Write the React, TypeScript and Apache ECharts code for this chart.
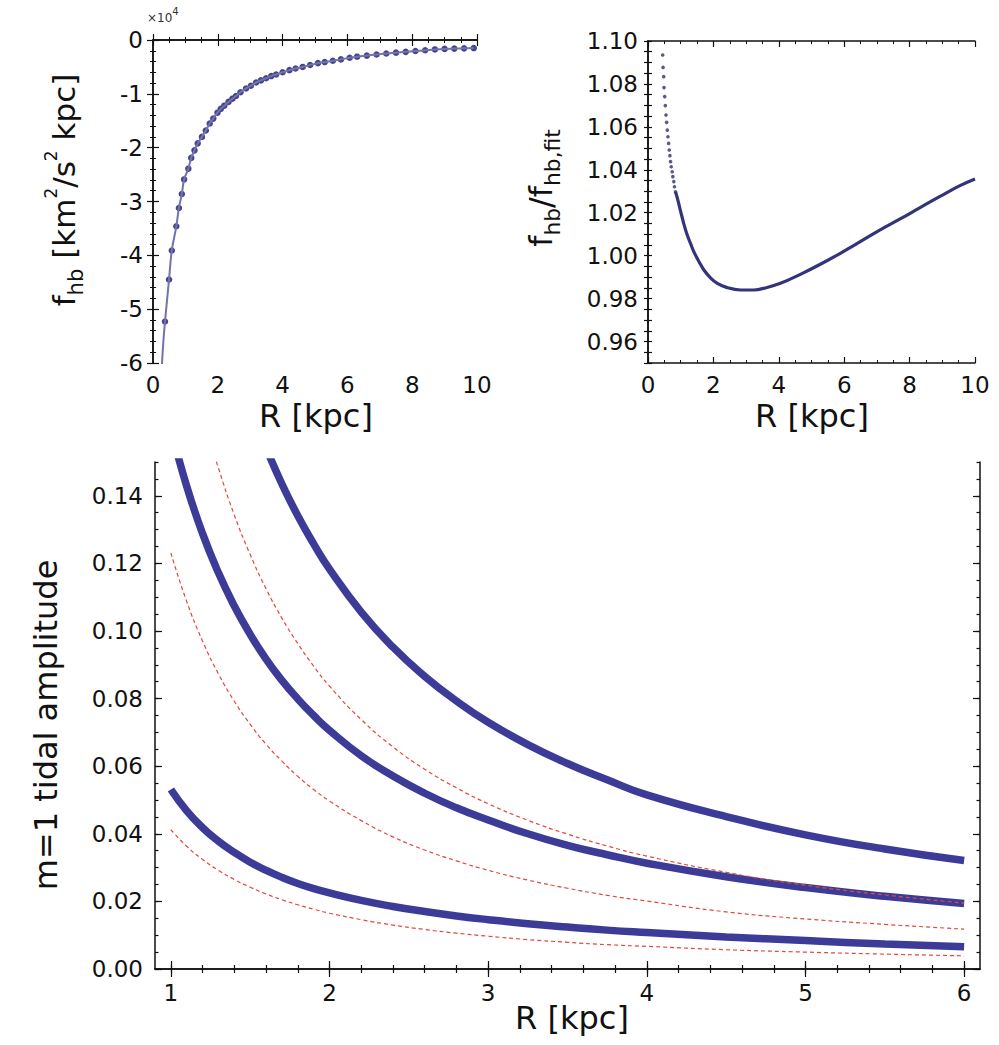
import React, { useEffect, useRef } from "react";
import * as echarts from "echarts";

// ---------- data ----------
// top-left: f_hb in units of 1e4 km^2/s^2 kpc
const fhbDots: [number, number][] = [
  [0.37, -5.23], [0.495, -4.45], [0.58, -3.91], [0.72, -3.46], [0.8, -3.12], [0.89, -2.86],
  [0.96, -2.59], [1.09, -2.39], [1.18, -2.19], [1.28, -2.05], [1.38, -1.92], [1.51, -1.8],
  [1.63, -1.68], [1.75, -1.55], [1.86, -1.46], [1.99, -1.35], [2.09, -1.28], [2.2, -1.22],
  [2.33, -1.15], [2.45, -1.09], [2.56, -1.04], [2.7, -0.97], [2.87, -0.9], [3.02, -0.85],
  [3.18, -0.79], [3.33, -0.75], [3.49, -0.71], [3.65, -0.67], [3.8, -0.64], [4.0, -0.6],
  [4.21, -0.56], [4.4, -0.53], [4.62, -0.5], [4.85, -0.465], [5.09, -0.43], [5.3, -0.41],
  [5.55, -0.385], [5.8, -0.36], [6.07, -0.33], [6.3, -0.31], [6.6, -0.29], [6.9, -0.27],
  [7.2, -0.25], [7.5, -0.235], [7.8, -0.22], [8.1, -0.205], [8.4, -0.19], [8.7, -0.175],
  [9.0, -0.165], [9.3, -0.16], [9.6, -0.155], [9.9, -0.15],
];
const fhbLineStart: [number, number][] = [[0.27, -6.1], [0.32, -5.6]];

// top-right: ratio f_hb / f_hb,fit
const ratioDots: [number, number][] = [
  [0.45, 1.0935], [0.46, 1.0877], [0.48, 1.0834], [0.49, 1.0783], [0.51, 1.0741], [0.53, 1.0699],
  [0.55, 1.0655], [0.57, 1.0621], [0.59, 1.0585], [0.61, 1.0554], [0.63, 1.0523], [0.65, 1.0492],
  [0.67, 1.0466], [0.69, 1.0438], [0.71, 1.0414], [0.74, 1.0391], [0.76, 1.0368], [0.79, 1.0345],
  [0.81, 1.0321], [0.84, 1.0298],
];
const ratioLine: [number, number][] = [
  [0.84, 1.0298], [0.9, 1.0267], [1.0, 1.0205], [1.1, 1.0146], [1.2, 1.0096], [1.3, 1.0057],
  [1.4, 1.0019], [1.56, 0.9972], [1.71, 0.9933], [1.91, 0.9897], [2.12, 0.9871], [2.42, 0.9851],
  [2.83, 0.984], [3.23, 0.984], [3.64, 0.9852], [4.05, 0.9871], [4.66, 0.9913], [5.27, 0.996],
  [5.88, 1.0011], [6.49, 1.0065], [7.1, 1.012], [7.71, 1.0171], [8.32, 1.0224], [8.93, 1.0276],
  [9.54, 1.0326], [10.0, 1.0357],
];

// bottom: m=1 tidal amplitude
const blueUpper: [number, number][] = [
  [1.6, 0.1542], [1.7, 0.1435], [1.8, 0.1341], [1.9, 0.1258], [2.0, 0.1183], [2.2, 0.1056],
  [2.4, 0.0952], [2.6, 0.0866], [2.8, 0.0793], [3.0, 0.073], [3.25, 0.0664], [3.5, 0.0608],
  [3.75, 0.056], [4.0, 0.0515], [4.5, 0.0451], [5.0, 0.0397], [5.5, 0.0355], [6.0, 0.0321],
];
const blueMiddle: [number, number][] = [
  [1.0, 0.1598], [1.1, 0.1428], [1.2, 0.1288], [1.3, 0.1172], [1.4, 0.1074], [1.5, 0.099],
  [1.6, 0.0917], [1.7, 0.0854], [1.8, 0.0799], [1.9, 0.075], [2.0, 0.0706], [2.2, 0.0631],
  [2.4, 0.0571], [2.6, 0.052], [2.8, 0.0477], [3.0, 0.0441], [3.25, 0.04], [3.5, 0.0366],
  [3.75, 0.0338], [4.0, 0.0313], [4.5, 0.0273], [5.0, 0.0241], [5.5, 0.0215], [6.0, 0.0194],
];
const blueLower: [number, number][] = [
  [1.0, 0.0531], [1.1, 0.0468], [1.2, 0.0418], [1.3, 0.0378], [1.4, 0.0345], [1.5, 0.0316],
  [1.6, 0.0292], [1.7, 0.0271], [1.8, 0.0253], [1.9, 0.0238], [2.0, 0.0225], [2.2, 0.0203],
  [2.4, 0.0185], [2.6, 0.017], [2.8, 0.0157], [3.0, 0.0146], [3.25, 0.0134], [3.5, 0.0124],
  [3.75, 0.0115], [4.0, 0.0108], [4.5, 0.0095], [5.0, 0.0084], [5.5, 0.0074], [6.0, 0.0066],
];
const redUpper: [number, number][] = [
  [1.25, 0.1561], [1.3, 0.1482], [1.4, 0.1343], [1.5, 0.1226], [1.6, 0.1125], [1.7, 0.1038],
  [1.8, 0.0963], [1.9, 0.0896], [2.0, 0.0837], [2.2, 0.0738], [2.4, 0.0657], [2.6, 0.0591],
  [2.8, 0.0536], [3.0, 0.0489], [3.25, 0.044], [3.5, 0.0399], [3.75, 0.0364], [4.0, 0.0334],
  [4.5, 0.0286], [5.0, 0.0248], [5.5, 0.0219], [6.0, 0.0195],
];
const redMiddle: [number, number][] = [
  [1.0, 0.1231], [1.1, 0.1087], [1.2, 0.097], [1.3, 0.0873], [1.4, 0.0792], [1.5, 0.0724],
  [1.6, 0.0665], [1.7, 0.0615], [1.8, 0.057], [1.9, 0.0531], [2.0, 0.0497], [2.2, 0.0439],
  [2.4, 0.0391], [2.6, 0.0352], [2.8, 0.032], [3.0, 0.0292], [3.25, 0.0263], [3.5, 0.0239],
  [3.75, 0.0218], [4.0, 0.0201], [4.5, 0.0169], [5.0, 0.0148], [5.5, 0.0132], [6.0, 0.0118],
];
const redLower: [number, number][] = [
  [1.0, 0.0412], [1.1, 0.0363], [1.2, 0.0324], [1.3, 0.0292], [1.4, 0.0265], [1.5, 0.0242],
  [1.6, 0.0222], [1.7, 0.0205], [1.8, 0.019], [1.9, 0.0177], [2.0, 0.0165], [2.2, 0.0146],
  [2.4, 0.013], [2.6, 0.0117], [2.8, 0.0106], [3.0, 0.0097], [3.25, 0.0087], [3.5, 0.0079],
  [3.75, 0.0072], [4.0, 0.0067], [4.5, 0.0057], [5.0, 0.005], [5.5, 0.0044], [6.0, 0.0039],
];

// tick labels
const topXLabels = [0, 2, 4, 6, 8, 10];
const topLeftYLabels = [-6, -5, -4, -3, -2, -1, 0];
const topRightYLabels = [0.96, 0.98, 1.0, 1.02, 1.04, 1.06, 1.08, 1.1];
const bottomXLabels = [1, 2, 3, 4, 5, 6];
const bottomYLabels = [0, 0.02, 0.04, 0.06, 0.08, 0.1, 0.12, 0.14];

const FONT = "DejaVu Sans";
const INK = "#111";
const BLUE = "#3c3c98";
const RED = "#e4473e";

function steps(a: number, b: number, s: number): number[] {
  const out: number[] = [];
  const n = Math.round((b - a) / s);
  for (let i = 0; i <= n; i++) out.push(+(a + i * s).toFixed(4));
  return out;
}

export default function App() {
  const ref = useRef<HTMLDivElement>(null);
  useEffect(() => {
    if (!ref.current) return;
    const chart = echarts.init(ref.current, undefined, { renderer: "svg" });

    const line = { show: true, lineStyle: { color: INK, width: 1.5 } };
    const lbl = (fs: number, margin: number, extra: any = {}) => ({
      show: true, color: INK, fontFamily: FONT, fontSize: fs, margin, ...extra,
    });
    const tick = (len: number, extra: any = {}) => ({
      show: true, inside: true, length: len, lineStyle: { color: INK, width: 1.2 }, ...extra,
    });
    const minor = (n: number) => ({
      show: true, splitNumber: n, length: 3, lineStyle: { color: INK, width: 1 },
    });
    const noSplit = { show: false };

    const bxMinor = steps(1, 6, 0.2);
    const byMinor = steps(0, 0.15, 0.005);
    const tryMinor = steps(0.95, 1.1, 0.005);

    const xAxis: any[] = [
      { gridIndex: 0, type: "value", min: 0, max: 10, interval: 2, position: "bottom",
        axisLine: line, axisTick: tick(6), minorTick: minor(4), splitLine: noSplit,
        axisLabel: lbl(23, 10, { customValues: topXLabels }) },
      { gridIndex: 0, type: "value", min: 0, max: 10, interval: 2, position: "top",
        axisLine: line, axisTick: tick(6), minorTick: minor(4), splitLine: noSplit,
        axisLabel: { show: false } },
      { gridIndex: 1, type: "value", min: 0, max: 10, interval: 2, position: "bottom",
        axisLine: line, axisTick: tick(6), minorTick: minor(4), splitLine: noSplit,
        axisLabel: lbl(23, 10, { customValues: topXLabels }) },
      { gridIndex: 1, type: "value", min: 0, max: 10, interval: 2, position: "top",
        axisLine: line, axisTick: tick(6), minorTick: minor(4), splitLine: noSplit,
        axisLabel: { show: false } },
      { gridIndex: 2, type: "value", min: 0.9, max: 6.1, position: "bottom",
        axisLine: line, axisTick: tick(8, { customValues: bottomXLabels }), splitLine: noSplit,
        axisLabel: lbl(23, 12, { customValues: bottomXLabels }) },
      { gridIndex: 2, type: "value", min: 0.9, max: 6.1, position: "bottom",
        axisLine: { show: false }, axisTick: tick(4, { customValues: bxMinor }), splitLine: noSplit,
        axisLabel: { show: false } },
      { gridIndex: 2, type: "value", min: 0.9, max: 6.1, position: "top",
        axisLine: line, axisTick: tick(8, { customValues: bottomXLabels }), splitLine: noSplit,
        axisLabel: { show: false } },
      { gridIndex: 2, type: "value", min: 0.9, max: 6.1, position: "top",
        axisLine: { show: false }, axisTick: tick(4, { customValues: bxMinor }), splitLine: noSplit,
        axisLabel: { show: false } },
    ];

    const yAxis: any[] = [
      { gridIndex: 0, type: "value", min: -6, max: 0, interval: 1, position: "left",
        axisLine: line, axisTick: tick(6), minorTick: minor(5), splitLine: noSplit,
        axisLabel: lbl(23, 10, { customValues: topLeftYLabels, formatter: (v: number) => String(v) }) },
      { gridIndex: 0, type: "value", min: -6, max: 0, interval: 1, position: "right",
        axisLine: line, axisTick: tick(6), minorTick: minor(5), splitLine: noSplit,
        axisLabel: { show: false } },
      { gridIndex: 1, type: "value", min: 0.95, max: 1.1, position: "left",
        axisLine: line, axisTick: tick(4, { customValues: tryMinor }), splitLine: noSplit,
        axisLabel: lbl(23, 10, { customValues: topRightYLabels, formatter: (v: number) => v.toFixed(2) }) },
      { gridIndex: 1, type: "value", min: 0.95, max: 1.1, position: "right",
        axisLine: line, axisTick: tick(4, { customValues: tryMinor }), splitLine: noSplit,
        axisLabel: { show: false } },
      { gridIndex: 2, type: "value", min: 0, max: 0.15, position: "left",
        axisLine: line, axisTick: tick(7, { customValues: bottomYLabels }), splitLine: noSplit,
        axisLabel: lbl(23, 12, { customValues: bottomYLabels, formatter: (v: number) => v.toFixed(2) }) },
      { gridIndex: 2, type: "value", min: 0, max: 0.15, position: "left",
        axisLine: { show: false }, axisTick: tick(3.5, { customValues: byMinor }), splitLine: noSplit,
        axisLabel: { show: false } },
      { gridIndex: 2, type: "value", min: 0, max: 0.15, position: "right",
        axisLine: line, axisTick: tick(7, { customValues: bottomYLabels }), splitLine: noSplit,
        axisLabel: { show: false } },
      { gridIndex: 2, type: "value", min: 0, max: 0.15, position: "right",
        axisLine: { show: false }, axisTick: tick(3.5, { customValues: byMinor }), splitLine: noSplit,
        axisLabel: { show: false } },
    ];

    const thick = (data: [number, number][]) => ({
      type: "line", xAxisIndex: 4, yAxisIndex: 4, data, smooth: true, showSymbol: false,
      clip: true, lineStyle: { color: BLUE, width: 7.5, cap: "butt" }, silent: true,
    });
    const dashed = (data: [number, number][]) => ({
      type: "line", xAxisIndex: 4, yAxisIndex: 4, data, smooth: true, showSymbol: false,
      clip: true, lineStyle: { color: RED, width: 1.2, type: [4, 3] }, silent: true,
    });

    const series: any[] = [
      { type: "line", xAxisIndex: 0, yAxisIndex: 0, data: [...fhbLineStart, ...fhbDots],
        smooth: 0.4, showSymbol: false, clip: true,
        lineStyle: { color: "#7373ad", width: 2 } },
      { type: "scatter", xAxisIndex: 0, yAxisIndex: 0, data: fhbDots, symbolSize: 6.5,
        itemStyle: { color: "#3b3b88", opacity: 0.95 } },
      { type: "line", xAxisIndex: 2, yAxisIndex: 2, data: ratioLine, smooth: 0.4,
        showSymbol: false, clip: true, lineStyle: { color: "#34347c", width: 3.2 } },
      { type: "scatter", xAxisIndex: 2, yAxisIndex: 2, data: ratioDots, symbolSize: 3.6,
        itemStyle: { color: "#2f2f6e" } },
      thick(blueUpper),
      thick(blueMiddle),
      thick(blueLower),
      dashed(redUpper),
      dashed(redMiddle),
      dashed(redLower),
    ];

    const titleStyle = (text: string, fs: number, rich?: any) => ({
      text, fontFamily: FONT, fontSize: fs, fill: INK, align: "center", verticalAlign: "middle",
      ...(rich ? { rich } : {}),
    });
    const richTitle = (fs: number) => ({
      m: { fontFamily: FONT, fontSize: fs, fill: INK, color: INK, lineHeight: 44, verticalAlign: "middle" },
      sub: { fontFamily: FONT, fontSize: fs * 0.68, fill: INK, color: INK, lineHeight: 24, verticalAlign: "bottom" },
      sup: { fontFamily: FONT, fontSize: fs * 0.55, fill: INK, color: INK, lineHeight: 22, verticalAlign: "top" },
    });

    const graphic: any[] = [
      { type: "text", x: 64, y: 190, rotation: Math.PI / 2,
        style: titleStyle("{m|f}{sub|hb}{m| [km}{sup|2}{m|/s}{sup|2}{m| kpc]}", 31, richTitle(31)) },
      { type: "text", x: 316, y: 416, style: titleStyle("R [kpc]", 32) },
      { type: "text", x: 147, y: 15,
        style: { text: "{a|×10}{b|4}", fontFamily: FONT, fill: "#333", align: "left", verticalAlign: "middle",
          rich: { a: { fontFamily: FONT, fontSize: 12, fill: "#333", color: "#333", lineHeight: 18, verticalAlign: "bottom" },
                  b: { fontFamily: FONT, fontSize: 10, fill: "#333", color: "#333", lineHeight: 12, verticalAlign: "top" } } } },
      { type: "text", x: 541, y: 188, rotation: Math.PI / 2,
        style: titleStyle("{m|f}{sub|hb}{m|/f}{sub|hb,fit}", 32, richTitle(32)) },
      { type: "text", x: 812, y: 416, style: titleStyle("R [kpc]", 32) },
      { type: "text", x: 46, y: 725, rotation: Math.PI / 2, style: titleStyle("m=1 tidal amplitude", 32) },
      { type: "text", x: 572, y: 1018, style: titleStyle("R [kpc]", 32) },
    ];

    chart.setOption({
      animation: false,
      backgroundColor: "#ffffff",
      grid: [
        { left: 153, top: 40, width: 324, height: 323 },
        { left: 648, top: 41, width: 327, height: 322 },
        { left: 155, top: 462, width: 825, height: 507 },
      ],
      xAxis,
      yAxis,
      series,
      graphic,
    });
    return () => chart.dispose();
  }, []);

  return (
    <div
      ref={ref}
      style={{ position: "absolute", left: 0, top: 0, width: 999, height: 1045, background: "#fff" }}
    />
  );
}
